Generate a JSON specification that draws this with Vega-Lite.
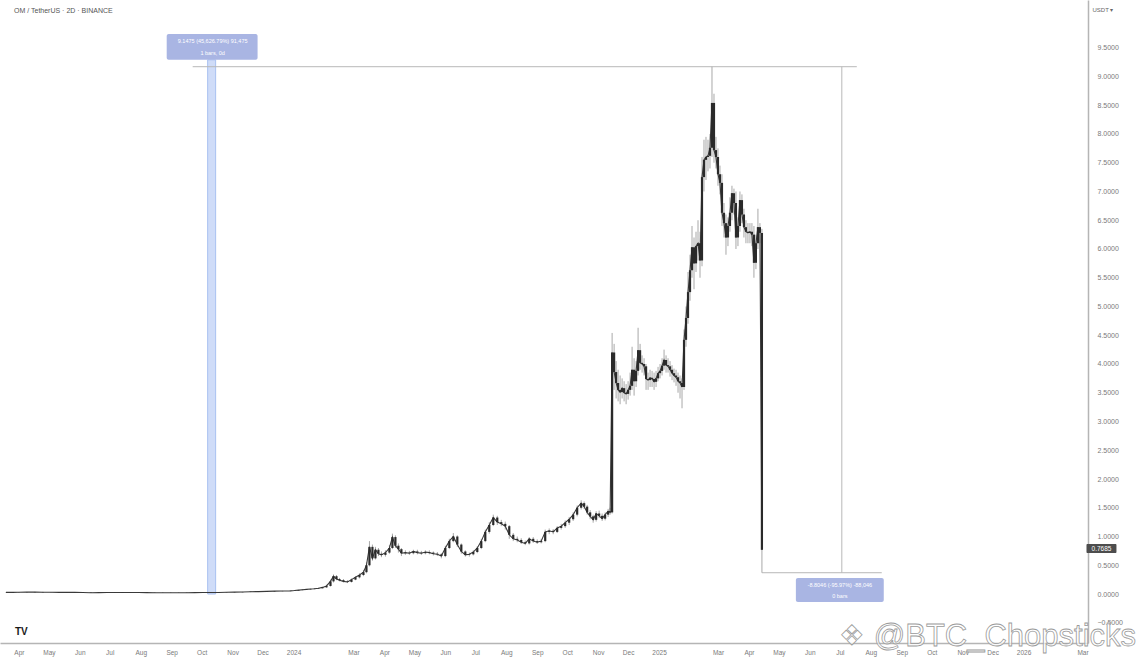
{
  "$schema": "https://vega.github.io/schema/vega-lite/v6.json",
  "width": 1088,
  "height": 643,
  "autosize": {"type": "none"},
  "padding": {"left": 0, "top": 0, "right": 58, "bottom": 19},
  "background": "white",
  "config": {
    "view": {"stroke": null},
    "font": "Liberation Sans",
    "axis": {"grid": false, "ticks": false, "domainColor": "#b5b5b5", "domainWidth": 1.5, "labelColor": "#7a7a7a", "labelOverlap": false, "labelFlush": false},
    "axisX": {"labelFontSize": 6.5, "labelPadding": 6},
    "axisY": {"labelFontSize": 7, "labelPadding": 9}
  },
  "title": {"text": "OM / TetherUS · 2D · BINANCE", "anchor": "start", "frame": "group", "orient": "top", "offset": -14, "dx": 14, "fontSize": 7, "fontWeight": "normal", "color": "#555555"},
  "datasets": {
    "candles": [
      {"d":"2023-03-19","o":0.029,"h":0.033,"l":0.026,"c":0.029},
      {"d":"2023-03-26","o":0.029,"h":0.032,"l":0.025,"c":0.028},
      {"d":"2023-04-01","o":0.028,"h":0.033,"l":0.025,"c":0.030},
      {"d":"2023-04-09","o":0.030,"h":0.035,"l":0.027,"c":0.032},
      {"d":"2023-04-17","o":0.032,"h":0.038,"l":0.029,"c":0.035},
      {"d":"2023-04-25","o":0.035,"h":0.038,"l":0.028,"c":0.031},
      {"d":"2023-05-03","o":0.031,"h":0.034,"l":0.027,"c":0.030},
      {"d":"2023-05-11","o":0.030,"h":0.033,"l":0.025,"c":0.028},
      {"d":"2023-05-19","o":0.028,"h":0.032,"l":0.025,"c":0.029},
      {"d":"2023-05-27","o":0.029,"h":0.033,"l":0.026,"c":0.030},
      {"d":"2023-06-04","o":0.030,"h":0.033,"l":0.024,"c":0.027},
      {"d":"2023-06-12","o":0.027,"h":0.030,"l":0.019,"c":0.022},
      {"d":"2023-06-20","o":0.022,"h":0.027,"l":0.019,"c":0.024},
      {"d":"2023-06-28","o":0.024,"h":0.029,"l":0.021,"c":0.026},
      {"d":"2023-07-06","o":0.026,"h":0.029,"l":0.022,"c":0.025},
      {"d":"2023-07-14","o":0.025,"h":0.030,"l":0.022,"c":0.027},
      {"d":"2023-07-22","o":0.027,"h":0.030,"l":0.023,"c":0.026},
      {"d":"2023-07-30","o":0.026,"h":0.029,"l":0.022,"c":0.025},
      {"d":"2023-08-07","o":0.025,"h":0.028,"l":0.021,"c":0.024},
      {"d":"2023-08-15","o":0.024,"h":0.027,"l":0.019,"c":0.022},
      {"d":"2023-08-23","o":0.022,"h":0.025,"l":0.018,"c":0.021},
      {"d":"2023-08-31","o":0.021,"h":0.025,"l":0.018,"c":0.022},
      {"d":"2023-09-08","o":0.022,"h":0.025,"l":0.018,"c":0.021},
      {"d":"2023-09-16","o":0.021,"h":0.026,"l":0.018,"c":0.023},
      {"d":"2023-09-24","o":0.023,"h":0.027,"l":0.020,"c":0.024},
      {"d":"2023-10-02","o":0.024,"h":0.029,"l":0.021,"c":0.026},
      {"d":"2023-10-10","o":0.026,"h":0.029,"l":0.022,"c":0.025},
      {"d":"2023-10-18","o":0.025,"h":0.030,"l":0.022,"c":0.027},
      {"d":"2023-10-26","o":0.027,"h":0.033,"l":0.024,"c":0.030},
      {"d":"2023-11-03","o":0.030,"h":0.035,"l":0.027,"c":0.032},
      {"d":"2023-11-11","o":0.032,"h":0.038,"l":0.029,"c":0.035},
      {"d":"2023-11-19","o":0.035,"h":0.043,"l":0.032,"c":0.040},
      {"d":"2023-11-27","o":0.040,"h":0.045,"l":0.037,"c":0.042},
      {"d":"2023-12-05","o":0.042,"h":0.048,"l":0.039,"c":0.045},
      {"d":"2023-12-13","o":0.045,"h":0.053,"l":0.042,"c":0.050},
      {"d":"2023-12-21","o":0.050,"h":0.055,"l":0.047,"c":0.052},
      {"d":"2023-12-29","o":0.052,"h":0.058,"l":0.049,"c":0.055},
      {"d":"2024-01-02","o":0.055,"h":0.064,"l":0.052,"c":0.060},
      {"d":"2024-01-06","o":0.060,"h":0.072,"l":0.058,"c":0.068},
      {"d":"2024-01-10","o":0.068,"h":0.078,"l":0.065,"c":0.074},
      {"d":"2024-01-14","o":0.074,"h":0.085,"l":0.071,"c":0.080},
      {"d":"2024-01-18","o":0.080,"h":0.092,"l":0.077,"c":0.086},
      {"d":"2024-01-22","o":0.086,"h":0.10,"l":0.083,"c":0.092},
      {"d":"2024-01-26","o":0.092,"h":0.11,"l":0.088,"c":0.10},
      {"d":"2024-01-30","o":0.10,"h":0.125,"l":0.095,"c":0.115},
      {"d":"2024-02-03","o":0.115,"h":0.16,"l":0.11,"c":0.14},
      {"d":"2024-02-07","o":0.14,"h":0.25,"l":0.13,"c":0.22},
      {"d":"2024-02-10","o":0.22,"h":0.34,"l":0.20,"c":0.31},
      {"d":"2024-02-13","o":0.31,"h":0.33,"l":0.24,"c":0.26},
      {"d":"2024-02-16","o":0.26,"h":0.28,"l":0.22,"c":0.24},
      {"d":"2024-02-20","o":0.24,"h":0.26,"l":0.20,"c":0.22},
      {"d":"2024-02-24","o":0.22,"h":0.24,"l":0.19,"c":0.21},
      {"d":"2024-02-28","o":0.21,"h":0.27,"l":0.20,"c":0.25},
      {"d":"2024-03-03","o":0.25,"h":0.31,"l":0.24,"c":0.29},
      {"d":"2024-03-07","o":0.29,"h":0.36,"l":0.27,"c":0.33},
      {"d":"2024-03-11","o":0.33,"h":0.42,"l":0.31,"c":0.38},
      {"d":"2024-03-14","o":0.38,"h":0.55,"l":0.36,"c":0.50},
      {"d":"2024-03-17","o":0.50,"h":0.92,"l":0.48,"c":0.82},
      {"d":"2024-03-20","o":0.82,"h":0.86,"l":0.58,"c":0.62},
      {"d":"2024-03-23","o":0.62,"h":0.82,"l":0.60,"c":0.77},
      {"d":"2024-03-26","o":0.77,"h":0.80,"l":0.66,"c":0.70},
      {"d":"2024-03-29","o":0.70,"h":0.74,"l":0.64,"c":0.68},
      {"d":"2024-04-02","o":0.68,"h":0.76,"l":0.65,"c":0.72},
      {"d":"2024-04-06","o":0.72,"h":0.85,"l":0.70,"c":0.80},
      {"d":"2024-04-09","o":0.80,"h":1.05,"l":0.78,"c":0.99},
      {"d":"2024-04-12","o":0.99,"h":1.02,"l":0.80,"c":0.84},
      {"d":"2024-04-15","o":0.84,"h":0.88,"l":0.72,"c":0.78},
      {"d":"2024-04-18","o":0.78,"h":0.80,"l":0.66,"c":0.71},
      {"d":"2024-04-22","o":0.71,"h":0.76,"l":0.68,"c":0.72},
      {"d":"2024-04-26","o":0.72,"h":0.75,"l":0.68,"c":0.71},
      {"d":"2024-04-30","o":0.71,"h":0.77,"l":0.69,"c":0.74},
      {"d":"2024-05-04","o":0.74,"h":0.77,"l":0.69,"c":0.72},
      {"d":"2024-05-08","o":0.72,"h":0.75,"l":0.68,"c":0.71},
      {"d":"2024-05-12","o":0.71,"h":0.76,"l":0.69,"c":0.73},
      {"d":"2024-05-16","o":0.73,"h":0.76,"l":0.69,"c":0.72},
      {"d":"2024-05-20","o":0.72,"h":0.74,"l":0.67,"c":0.70},
      {"d":"2024-05-24","o":0.70,"h":0.73,"l":0.66,"c":0.69},
      {"d":"2024-05-28","o":0.69,"h":0.71,"l":0.62,"c":0.66},
      {"d":"2024-06-01","o":0.66,"h":0.84,"l":0.64,"c":0.80},
      {"d":"2024-06-05","o":0.80,"h":0.96,"l":0.78,"c":0.92},
      {"d":"2024-06-09","o":0.92,"h":1.06,"l":0.90,"c":1.00},
      {"d":"2024-06-13","o":1.00,"h":1.02,"l":0.82,"c":0.86},
      {"d":"2024-06-17","o":0.86,"h":0.88,"l":0.70,"c":0.74},
      {"d":"2024-06-21","o":0.74,"h":0.76,"l":0.65,"c":0.68},
      {"d":"2024-06-25","o":0.68,"h":0.72,"l":0.65,"c":0.69},
      {"d":"2024-06-29","o":0.69,"h":0.76,"l":0.67,"c":0.73},
      {"d":"2024-07-03","o":0.73,"h":0.83,"l":0.71,"c":0.80},
      {"d":"2024-07-07","o":0.80,"h":0.96,"l":0.78,"c":0.92},
      {"d":"2024-07-11","o":0.92,"h":1.12,"l":0.90,"c":1.08},
      {"d":"2024-07-15","o":1.08,"h":1.25,"l":1.05,"c":1.20},
      {"d":"2024-07-19","o":1.20,"h":1.38,"l":1.18,"c":1.33},
      {"d":"2024-07-23","o":1.33,"h":1.36,"l":1.20,"c":1.25},
      {"d":"2024-07-27","o":1.25,"h":1.29,"l":1.18,"c":1.22},
      {"d":"2024-07-31","o":1.22,"h":1.26,"l":1.12,"c":1.18},
      {"d":"2024-08-04","o":1.18,"h":1.20,"l":0.96,"c":1.03},
      {"d":"2024-08-08","o":1.03,"h":1.06,"l":0.92,"c":0.96},
      {"d":"2024-08-12","o":0.96,"h":1.00,"l":0.90,"c":0.94},
      {"d":"2024-08-16","o":0.94,"h":0.97,"l":0.87,"c":0.90},
      {"d":"2024-08-20","o":0.90,"h":0.93,"l":0.85,"c":0.88},
      {"d":"2024-08-24","o":0.88,"h":0.99,"l":0.86,"c":0.96},
      {"d":"2024-08-28","o":0.96,"h":0.99,"l":0.89,"c":0.92},
      {"d":"2024-09-01","o":0.92,"h":0.95,"l":0.87,"c":0.90},
      {"d":"2024-09-05","o":0.90,"h":0.96,"l":0.88,"c":0.92},
      {"d":"2024-09-09","o":0.92,"h":1.12,"l":0.90,"c":1.08},
      {"d":"2024-09-13","o":1.08,"h":1.14,"l":1.04,"c":1.10},
      {"d":"2024-09-17","o":1.10,"h":1.13,"l":1.04,"c":1.08},
      {"d":"2024-09-21","o":1.08,"h":1.18,"l":1.06,"c":1.15},
      {"d":"2024-09-25","o":1.15,"h":1.22,"l":1.12,"c":1.18},
      {"d":"2024-09-29","o":1.18,"h":1.28,"l":1.15,"c":1.24},
      {"d":"2024-10-03","o":1.24,"h":1.34,"l":1.20,"c":1.30},
      {"d":"2024-10-07","o":1.30,"h":1.42,"l":1.27,"c":1.38},
      {"d":"2024-10-11","o":1.38,"h":1.54,"l":1.35,"c":1.50},
      {"d":"2024-10-15","o":1.50,"h":1.63,"l":1.47,"c":1.58},
      {"d":"2024-10-18","o":1.58,"h":1.61,"l":1.48,"c":1.52},
      {"d":"2024-10-21","o":1.52,"h":1.55,"l":1.38,"c":1.42},
      {"d":"2024-10-24","o":1.42,"h":1.46,"l":1.30,"c":1.35},
      {"d":"2024-10-27","o":1.35,"h":1.38,"l":1.24,"c":1.29},
      {"d":"2024-10-30","o":1.29,"h":1.44,"l":1.26,"c":1.40},
      {"d":"2024-11-02","o":1.40,"h":1.45,"l":1.32,"c":1.36},
      {"d":"2024-11-05","o":1.36,"h":1.40,"l":1.27,"c":1.31},
      {"d":"2024-11-08","o":1.31,"h":1.42,"l":1.28,"c":1.38},
      {"d":"2024-11-11","o":1.38,"h":1.48,"l":1.34,"c":1.44},
      {"d":"2024-11-13","o":1.44,"h":1.50,"l":1.38,"c":1.42},
      {"d":"2024-11-15","o":1.42,"h":4.54,"l":1.40,"c":4.20},
      {"d":"2024-11-17","o":4.20,"h":4.35,"l":3.55,"c":3.86},
      {"d":"2024-11-19","o":3.86,"h":4.05,"l":3.40,"c":3.67},
      {"d":"2024-11-21","o":3.67,"h":3.90,"l":3.35,"c":3.55},
      {"d":"2024-11-23","o":3.55,"h":3.80,"l":3.30,"c":3.51},
      {"d":"2024-11-25","o":3.51,"h":3.75,"l":3.40,"c":3.58},
      {"d":"2024-11-27","o":3.58,"h":3.70,"l":3.35,"c":3.50},
      {"d":"2024-11-29","o":3.50,"h":3.65,"l":3.30,"c":3.48},
      {"d":"2024-12-01","o":3.48,"h":3.70,"l":3.38,"c":3.55},
      {"d":"2024-12-03","o":3.55,"h":3.85,"l":3.45,"c":3.62},
      {"d":"2024-12-05","o":3.62,"h":4.30,"l":3.55,"c":3.90},
      {"d":"2024-12-07","o":3.90,"h":4.10,"l":3.45,"c":3.70},
      {"d":"2024-12-09","o":3.70,"h":4.05,"l":3.60,"c":3.88},
      {"d":"2024-12-11","o":3.88,"h":4.63,"l":3.80,"c":4.24},
      {"d":"2024-12-13","o":4.24,"h":4.35,"l":3.90,"c":4.02},
      {"d":"2024-12-15","o":4.02,"h":4.15,"l":3.85,"c":4.00},
      {"d":"2024-12-17","o":4.00,"h":4.10,"l":3.80,"c":3.96},
      {"d":"2024-12-19","o":3.96,"h":4.00,"l":3.55,"c":3.74},
      {"d":"2024-12-21","o":3.74,"h":3.85,"l":3.55,"c":3.72},
      {"d":"2024-12-23","o":3.72,"h":3.90,"l":3.60,"c":3.76},
      {"d":"2024-12-25","o":3.76,"h":3.88,"l":3.60,"c":3.74},
      {"d":"2024-12-27","o":3.74,"h":3.85,"l":3.55,"c":3.69},
      {"d":"2024-12-29","o":3.69,"h":3.88,"l":3.60,"c":3.75},
      {"d":"2024-12-31","o":3.75,"h":3.95,"l":3.70,"c":3.84},
      {"d":"2025-01-02","o":3.84,"h":4.00,"l":3.75,"c":3.88},
      {"d":"2025-01-04","o":3.88,"h":4.10,"l":3.80,"c":3.97},
      {"d":"2025-01-06","o":3.97,"h":4.25,"l":3.90,"c":4.07},
      {"d":"2025-01-08","o":4.07,"h":4.15,"l":3.85,"c":3.98},
      {"d":"2025-01-10","o":3.98,"h":4.10,"l":3.85,"c":3.96},
      {"d":"2025-01-12","o":3.96,"h":4.05,"l":3.78,"c":3.90},
      {"d":"2025-01-14","o":3.90,"h":3.98,"l":3.72,"c":3.84},
      {"d":"2025-01-16","o":3.84,"h":3.92,"l":3.68,"c":3.80},
      {"d":"2025-01-18","o":3.80,"h":3.90,"l":3.62,"c":3.77},
      {"d":"2025-01-20","o":3.77,"h":3.85,"l":3.50,"c":3.70},
      {"d":"2025-01-22","o":3.70,"h":3.80,"l":3.40,"c":3.67},
      {"d":"2025-01-24","o":3.67,"h":3.75,"l":3.23,"c":3.60},
      {"d":"2025-01-26","o":3.60,"h":4.60,"l":3.55,"c":4.42},
      {"d":"2025-01-28","o":4.42,"h":5.00,"l":4.30,"c":4.80},
      {"d":"2025-01-30","o":4.80,"h":5.60,"l":4.70,"c":5.25},
      {"d":"2025-02-01","o":5.25,"h":5.90,"l":5.10,"c":5.63},
      {"d":"2025-02-03","o":5.63,"h":6.40,"l":5.50,"c":6.03},
      {"d":"2025-02-05","o":6.03,"h":6.20,"l":5.30,"c":5.75},
      {"d":"2025-02-07","o":5.75,"h":6.30,"l":5.60,"c":6.05},
      {"d":"2025-02-09","o":6.05,"h":6.50,"l":5.80,"c":6.10},
      {"d":"2025-02-11","o":6.10,"h":6.30,"l":5.50,"c":5.80},
      {"d":"2025-02-13","o":5.80,"h":7.60,"l":5.70,"c":7.25},
      {"d":"2025-02-15","o":7.25,"h":7.90,"l":7.00,"c":7.55},
      {"d":"2025-02-17","o":7.55,"h":7.95,"l":7.20,"c":7.60},
      {"d":"2025-02-19","o":7.60,"h":7.90,"l":7.35,"c":7.62},
      {"d":"2025-02-21","o":7.62,"h":8.00,"l":7.40,"c":7.76},
      {"d":"2025-02-23","o":7.76,"h":9.17,"l":7.60,"c":8.54},
      {"d":"2025-02-25","o":8.54,"h":8.70,"l":7.50,"c":7.72},
      {"d":"2025-02-27","o":7.72,"h":7.95,"l":7.40,"c":7.60},
      {"d":"2025-03-01","o":7.60,"h":7.75,"l":7.10,"c":7.30},
      {"d":"2025-03-03","o":7.30,"h":7.45,"l":6.95,"c":7.15},
      {"d":"2025-03-05","o":7.15,"h":7.30,"l":6.40,"c":6.63},
      {"d":"2025-03-07","o":6.63,"h":6.80,"l":6.20,"c":6.45},
      {"d":"2025-03-09","o":6.45,"h":6.60,"l":5.90,"c":6.20},
      {"d":"2025-03-11","o":6.20,"h":6.55,"l":6.05,"c":6.40},
      {"d":"2025-03-13","o":6.40,"h":6.90,"l":6.30,"c":6.63},
      {"d":"2025-03-15","o":6.63,"h":7.10,"l":6.50,"c":6.97},
      {"d":"2025-03-17","o":6.97,"h":7.05,"l":6.60,"c":6.80},
      {"d":"2025-03-19","o":6.80,"h":7.00,"l":6.00,"c":6.20},
      {"d":"2025-03-21","o":6.20,"h":6.55,"l":6.05,"c":6.40},
      {"d":"2025-03-23","o":6.40,"h":7.00,"l":6.30,"c":6.85},
      {"d":"2025-03-25","o":6.85,"h":6.95,"l":6.45,"c":6.60},
      {"d":"2025-03-27","o":6.60,"h":6.70,"l":6.20,"c":6.38},
      {"d":"2025-03-29","o":6.38,"h":6.50,"l":6.10,"c":6.30},
      {"d":"2025-03-31","o":6.30,"h":6.45,"l":6.10,"c":6.28},
      {"d":"2025-04-02","o":6.28,"h":6.45,"l":6.10,"c":6.30},
      {"d":"2025-04-04","o":6.30,"h":6.45,"l":6.05,"c":6.25},
      {"d":"2025-04-06","o":6.25,"h":6.40,"l":5.50,"c":5.76},
      {"d":"2025-04-08","o":5.76,"h":6.25,"l":5.65,"c":6.10},
      {"d":"2025-04-10","o":6.10,"h":6.70,"l":6.00,"c":6.38},
      {"d":"2025-04-12","o":6.38,"h":6.45,"l":6.10,"c":6.28},
      {"d":"2025-04-14","o":6.28,"h":6.35,"l":0.37,"c":0.7685}
    ],
    "band": [{"x0":"2023-10-07","x1":"2023-10-15","y0":0.0,"y1":9.29}],
    "guides": [
      {"x0":"2023-09-22","x1":"2025-07-18","y0":9.17,"y1":9.17},
      {"x0":"2025-07-03","x1":"2025-07-03","y0":0.37,"y1":9.17},
      {"x0":"2025-04-14","x1":"2025-08-12","y0":0.37,"y1":0.37}
    ],
    "boxes": [
      {"x0":"2023-08-27","x1":"2023-11-26","y0":9.29,"y1":9.74},
      {"x0":"2025-05-18","x1":"2025-08-14","y0":-0.139,"y1":0.278}
    ],
    "boxtext": [
      {"x":"2023-10-12","y":9.62,"t":"9.1475 (45,626.79%) 91,475"},
      {"x":"2023-10-12","y":9.41,"t":"1 bars, 0d"},
      {"x":"2025-07-01","y":0.157,"t":"-8.8046 (-95.97%) -88,046"},
      {"x":"2025-07-01","y":-0.035,"t":"0 bars"}
    ],
    "tag": [{"x0":"2026-03-05","x1":"2026-04-04","y0":0.713,"y1":0.87,"x":"2026-03-20","y":0.79,"t":"0.7685"}],
    "unit": [{"x":"2026-03-11","y":10.157,"t":"USDT ▾"}],
    "logo": [{"x":"2023-03-28","y":-0.66,"t":"TV"}],
    "mark": [{"x":"2025-08-04","y":-0.75,"t":"@BTC_Chopsticks","gx":"2025-07-13","g":"❖"}]
  },
  "layer": [
    {
      "data": {"name": "band"},
      "mark": {"type": "rect", "fill": "#cfdcf8", "stroke": "#a9c0f0", "strokeWidth": 1},
      "encoding": {
        "x": {"field": "x0", "type": "temporal", "scale": {"type": "utc", "domain": [1679104800000, 1772366400000]},
          "axis": {"orient": "bottom", "title": null, "labelExpr": "utcmonth(datum.value) == 0 ? utcFormat(datum.value, '%Y') : utcFormat(datum.value, '%b')",
            "values": [1680307200000,1682899200000,1685577600000,1688169600000,1690848000000,1693526400000,1696118400000,1698796800000,1701388800000,1704067200000,1709251200000,1711929600000,1714521600000,1717200000000,1719792000000,1722470400000,1725148800000,1727740800000,1730419200000,1733011200000,1735689600000,1740787200000,1743465600000,1746057600000,1748736000000,1751328000000,1754006400000,1756684800000,1759276800000,1761955200000,1764547200000,1767225600000,1772323200000]}},
        "x2": {"field": "x1"},
        "y": {"field": "y0", "type": "quantitative", "scale": {"domain": [-0.852, 10.33], "nice": false, "zero": false},
          "axis": {"orient": "right", "title": null, "format": ".4f", "values": [-0.5, 0, 0.5, 1, 1.5, 2, 2.5, 3, 3.5, 4, 4.5, 5, 5.5, 6, 6.5, 7, 7.5, 8, 8.5, 9, 9.5]}},
        "y2": {"field": "y1"}
      }
    },
    {
      "data": {"name": "guides"},
      "mark": {"type": "rule", "color": "#b8b8b8", "strokeWidth": 1},
      "encoding": {
        "x": {"field": "x0", "type": "temporal", "scale": {"type": "utc", "domain": [1679104800000, 1772366400000]},
          "axis": {"orient": "bottom", "title": null, "labelExpr": "utcmonth(datum.value) == 0 ? utcFormat(datum.value, '%Y') : utcFormat(datum.value, '%b')",
            "values": [1680307200000,1682899200000,1685577600000,1688169600000,1690848000000,1693526400000,1696118400000,1698796800000,1701388800000,1704067200000,1709251200000,1711929600000,1714521600000,1717200000000,1719792000000,1722470400000,1725148800000,1727740800000,1730419200000,1733011200000,1735689600000,1740787200000,1743465600000,1746057600000,1748736000000,1751328000000,1754006400000,1756684800000,1759276800000,1761955200000,1764547200000,1767225600000,1772323200000]}},
        "x2": {"field": "x1"},
        "y": {"field": "y0", "type": "quantitative", "scale": {"domain": [-0.852, 10.33], "nice": false, "zero": false},
          "axis": {"orient": "right", "title": null, "format": ".4f", "values": [-0.5, 0, 0.5, 1, 1.5, 2, 2.5, 3, 3.5, 4, 4.5, 5, 5.5, 6, 6.5, 7, 7.5, 8, 8.5, 9, 9.5]}},
        "y2": {"field": "y1"}
      }
    },
    {
      "data": {"name": "candles"},
      "mark": {"type": "rule", "color": "#a8a8a8", "strokeWidth": 1},
      "encoding": {
        "x": {"field": "d", "type": "temporal", "scale": {"type": "utc", "domain": [1679104800000, 1772366400000]},
          "axis": {"orient": "bottom", "title": null, "labelExpr": "utcmonth(datum.value) == 0 ? utcFormat(datum.value, '%Y') : utcFormat(datum.value, '%b')",
            "values": [1680307200000,1682899200000,1685577600000,1688169600000,1690848000000,1693526400000,1696118400000,1698796800000,1701388800000,1704067200000,1709251200000,1711929600000,1714521600000,1717200000000,1719792000000,1722470400000,1725148800000,1727740800000,1730419200000,1733011200000,1735689600000,1740787200000,1743465600000,1746057600000,1748736000000,1751328000000,1754006400000,1756684800000,1759276800000,1761955200000,1764547200000,1767225600000,1772323200000]}},
        "y": {"field": "l", "type": "quantitative", "scale": {"domain": [-0.852, 10.33], "nice": false, "zero": false},
          "axis": {"orient": "right", "title": null, "format": ".4f", "values": [-0.5, 0, 0.5, 1, 1.5, 2, 2.5, 3, 3.5, 4, 4.5, 5, 5.5, 6, 6.5, 7, 7.5, 8, 8.5, 9, 9.5]}},
        "y2": {"field": "h"}
      }
    },
    {
      "data": {"name": "candles"},
      "mark": {"type": "line", "color": "#3a3a3a", "strokeWidth": 1.1},
      "encoding": {
        "x": {"field": "d", "type": "temporal", "scale": {"type": "utc", "domain": [1679104800000, 1772366400000]},
          "axis": {"orient": "bottom", "title": null, "labelExpr": "utcmonth(datum.value) == 0 ? utcFormat(datum.value, '%Y') : utcFormat(datum.value, '%b')",
            "values": [1680307200000,1682899200000,1685577600000,1688169600000,1690848000000,1693526400000,1696118400000,1698796800000,1701388800000,1704067200000,1709251200000,1711929600000,1714521600000,1717200000000,1719792000000,1722470400000,1725148800000,1727740800000,1730419200000,1733011200000,1735689600000,1740787200000,1743465600000,1746057600000,1748736000000,1751328000000,1754006400000,1756684800000,1759276800000,1761955200000,1764547200000,1767225600000,1772323200000]}},
        "y": {"field": "c", "type": "quantitative", "scale": {"domain": [-0.852, 10.33], "nice": false, "zero": false},
          "axis": {"orient": "right", "title": null, "format": ".4f", "values": [-0.5, 0, 0.5, 1, 1.5, 2, 2.5, 3, 3.5, 4, 4.5, 5, 5.5, 6, 6.5, 7, 7.5, 8, 8.5, 9, 9.5]}}
      }
    },
    {
      "data": {"name": "candles"},
      "mark": {"type": "bar", "color": "#2a2a2a", "size": 2.2},
      "encoding": {
        "x": {"field": "d", "type": "temporal", "scale": {"type": "utc", "domain": [1679104800000, 1772366400000]},
          "axis": {"orient": "bottom", "title": null, "labelExpr": "utcmonth(datum.value) == 0 ? utcFormat(datum.value, '%Y') : utcFormat(datum.value, '%b')",
            "values": [1680307200000,1682899200000,1685577600000,1688169600000,1690848000000,1693526400000,1696118400000,1698796800000,1701388800000,1704067200000,1709251200000,1711929600000,1714521600000,1717200000000,1719792000000,1722470400000,1725148800000,1727740800000,1730419200000,1733011200000,1735689600000,1740787200000,1743465600000,1746057600000,1748736000000,1751328000000,1754006400000,1756684800000,1759276800000,1761955200000,1764547200000,1767225600000,1772323200000]}},
        "y": {"field": "o", "type": "quantitative", "scale": {"domain": [-0.852, 10.33], "nice": false, "zero": false},
          "axis": {"orient": "right", "title": null, "format": ".4f", "values": [-0.5, 0, 0.5, 1, 1.5, 2, 2.5, 3, 3.5, 4, 4.5, 5, 5.5, 6, 6.5, 7, 7.5, 8, 8.5, 9, 9.5]}},
        "y2": {"field": "c"}
      }
    },
    {
      "data": {"name": "boxes"},
      "mark": {"type": "rect", "fill": "#a9b5e3", "cornerRadius": 2},
      "encoding": {
        "x": {"field": "x0", "type": "temporal", "scale": {"type": "utc", "domain": [1679104800000, 1772366400000]},
          "axis": {"orient": "bottom", "title": null, "labelExpr": "utcmonth(datum.value) == 0 ? utcFormat(datum.value, '%Y') : utcFormat(datum.value, '%b')",
            "values": [1680307200000,1682899200000,1685577600000,1688169600000,1690848000000,1693526400000,1696118400000,1698796800000,1701388800000,1704067200000,1709251200000,1711929600000,1714521600000,1717200000000,1719792000000,1722470400000,1725148800000,1727740800000,1730419200000,1733011200000,1735689600000,1740787200000,1743465600000,1746057600000,1748736000000,1751328000000,1754006400000,1756684800000,1759276800000,1761955200000,1764547200000,1767225600000,1772323200000]}},
        "x2": {"field": "x1"},
        "y": {"field": "y0", "type": "quantitative", "scale": {"domain": [-0.852, 10.33], "nice": false, "zero": false},
          "axis": {"orient": "right", "title": null, "format": ".4f", "values": [-0.5, 0, 0.5, 1, 1.5, 2, 2.5, 3, 3.5, 4, 4.5, 5, 5.5, 6, 6.5, 7, 7.5, 8, 8.5, 9, 9.5]}},
        "y2": {"field": "y1"}
      }
    },
    {
      "data": {"name": "boxtext"},
      "mark": {"type": "text", "color": "white", "fontSize": 5.5, "align": "center", "baseline": "middle"},
      "encoding": {
        "x": {"field": "x", "type": "temporal", "scale": {"type": "utc", "domain": [1679104800000, 1772366400000]},
          "axis": {"orient": "bottom", "title": null, "labelExpr": "utcmonth(datum.value) == 0 ? utcFormat(datum.value, '%Y') : utcFormat(datum.value, '%b')",
            "values": [1680307200000,1682899200000,1685577600000,1688169600000,1690848000000,1693526400000,1696118400000,1698796800000,1701388800000,1704067200000,1709251200000,1711929600000,1714521600000,1717200000000,1719792000000,1722470400000,1725148800000,1727740800000,1730419200000,1733011200000,1735689600000,1740787200000,1743465600000,1746057600000,1748736000000,1751328000000,1754006400000,1756684800000,1759276800000,1761955200000,1764547200000,1767225600000,1772323200000]}},
        "y": {"field": "y", "type": "quantitative", "scale": {"domain": [-0.852, 10.33], "nice": false, "zero": false},
          "axis": {"orient": "right", "title": null, "format": ".4f", "values": [-0.5, 0, 0.5, 1, 1.5, 2, 2.5, 3, 3.5, 4, 4.5, 5, 5.5, 6, 6.5, 7, 7.5, 8, 8.5, 9, 9.5]}},
        "text": {"field": "t"}
      }
    },
    {
      "data": {"name": "tag"},
      "mark": {"type": "rect", "fill": "#4d4d4d", "cornerRadius": 1, "clip": false},
      "encoding": {
        "x": {"field": "x0", "type": "temporal", "scale": {"type": "utc", "domain": [1679104800000, 1772366400000]},
          "axis": {"orient": "bottom", "title": null, "labelExpr": "utcmonth(datum.value) == 0 ? utcFormat(datum.value, '%Y') : utcFormat(datum.value, '%b')",
            "values": [1680307200000,1682899200000,1685577600000,1688169600000,1690848000000,1693526400000,1696118400000,1698796800000,1701388800000,1704067200000,1709251200000,1711929600000,1714521600000,1717200000000,1719792000000,1722470400000,1725148800000,1727740800000,1730419200000,1733011200000,1735689600000,1740787200000,1743465600000,1746057600000,1748736000000,1751328000000,1754006400000,1756684800000,1759276800000,1761955200000,1764547200000,1767225600000,1772323200000]}},
        "x2": {"field": "x1"},
        "y": {"field": "y0", "type": "quantitative", "scale": {"domain": [-0.852, 10.33], "nice": false, "zero": false},
          "axis": {"orient": "right", "title": null, "format": ".4f", "values": [-0.5, 0, 0.5, 1, 1.5, 2, 2.5, 3, 3.5, 4, 4.5, 5, 5.5, 6, 6.5, 7, 7.5, 8, 8.5, 9, 9.5]}},
        "y2": {"field": "y1"}
      }
    },
    {
      "data": {"name": "tag"},
      "mark": {"type": "text", "color": "white", "fontSize": 6.5, "align": "center", "baseline": "middle", "clip": false},
      "encoding": {
        "x": {"field": "x", "type": "temporal", "scale": {"type": "utc", "domain": [1679104800000, 1772366400000]},
          "axis": {"orient": "bottom", "title": null, "labelExpr": "utcmonth(datum.value) == 0 ? utcFormat(datum.value, '%Y') : utcFormat(datum.value, '%b')",
            "values": [1680307200000,1682899200000,1685577600000,1688169600000,1690848000000,1693526400000,1696118400000,1698796800000,1701388800000,1704067200000,1709251200000,1711929600000,1714521600000,1717200000000,1719792000000,1722470400000,1725148800000,1727740800000,1730419200000,1733011200000,1735689600000,1740787200000,1743465600000,1746057600000,1748736000000,1751328000000,1754006400000,1756684800000,1759276800000,1761955200000,1764547200000,1767225600000,1772323200000]}},
        "y": {"field": "y", "type": "quantitative", "scale": {"domain": [-0.852, 10.33], "nice": false, "zero": false},
          "axis": {"orient": "right", "title": null, "format": ".4f", "values": [-0.5, 0, 0.5, 1, 1.5, 2, 2.5, 3, 3.5, 4, 4.5, 5, 5.5, 6, 6.5, 7, 7.5, 8, 8.5, 9, 9.5]}},
        "text": {"field": "t"}
      }
    },
    {
      "data": {"name": "unit"},
      "mark": {"type": "text", "color": "#666666", "fontSize": 6, "align": "left", "baseline": "middle", "clip": false},
      "encoding": {
        "x": {"field": "x", "type": "temporal", "scale": {"type": "utc", "domain": [1679104800000, 1772366400000]},
          "axis": {"orient": "bottom", "title": null, "labelExpr": "utcmonth(datum.value) == 0 ? utcFormat(datum.value, '%Y') : utcFormat(datum.value, '%b')",
            "values": [1680307200000,1682899200000,1685577600000,1688169600000,1690848000000,1693526400000,1696118400000,1698796800000,1701388800000,1704067200000,1709251200000,1711929600000,1714521600000,1717200000000,1719792000000,1722470400000,1725148800000,1727740800000,1730419200000,1733011200000,1735689600000,1740787200000,1743465600000,1746057600000,1748736000000,1751328000000,1754006400000,1756684800000,1759276800000,1761955200000,1764547200000,1767225600000,1772323200000]}},
        "y": {"field": "y", "type": "quantitative", "scale": {"domain": [-0.852, 10.33], "nice": false, "zero": false},
          "axis": {"orient": "right", "title": null, "format": ".4f", "values": [-0.5, 0, 0.5, 1, 1.5, 2, 2.5, 3, 3.5, 4, 4.5, 5, 5.5, 6, 6.5, 7, 7.5, 8, 8.5, 9, 9.5]}},
        "text": {"field": "t"}
      }
    },
    {
      "data": {"name": "logo"},
      "mark": {"type": "text", "color": "#1a1a1a", "fontSize": 10, "fontWeight": 900, "align": "left", "baseline": "middle"},
      "encoding": {
        "x": {"field": "x", "type": "temporal", "scale": {"type": "utc", "domain": [1679104800000, 1772366400000]},
          "axis": {"orient": "bottom", "title": null, "labelExpr": "utcmonth(datum.value) == 0 ? utcFormat(datum.value, '%Y') : utcFormat(datum.value, '%b')",
            "values": [1680307200000,1682899200000,1685577600000,1688169600000,1690848000000,1693526400000,1696118400000,1698796800000,1701388800000,1704067200000,1709251200000,1711929600000,1714521600000,1717200000000,1719792000000,1722470400000,1725148800000,1727740800000,1730419200000,1733011200000,1735689600000,1740787200000,1743465600000,1746057600000,1748736000000,1751328000000,1754006400000,1756684800000,1759276800000,1761955200000,1764547200000,1767225600000,1772323200000]}},
        "y": {"field": "y", "type": "quantitative", "scale": {"domain": [-0.852, 10.33], "nice": false, "zero": false},
          "axis": {"orient": "right", "title": null, "format": ".4f", "values": [-0.5, 0, 0.5, 1, 1.5, 2, 2.5, 3, 3.5, 4, 4.5, 5, 5.5, 6, 6.5, 7, 7.5, 8, 8.5, 9, 9.5]}},
        "text": {"field": "t"}
      }
    },
    {
      "data": {"name": "mark"},
      "mark": {"type": "text", "fill": "#ffffff", "fillOpacity": 0.7, "stroke": "#9a9a9a", "strokeWidth": 0.8, "fontSize": 31, "align": "left", "baseline": "middle", "clip": false},
      "encoding": {
        "x": {"field": "x", "type": "temporal", "scale": {"type": "utc", "domain": [1679104800000, 1772366400000]},
          "axis": {"orient": "bottom", "title": null, "labelExpr": "utcmonth(datum.value) == 0 ? utcFormat(datum.value, '%Y') : utcFormat(datum.value, '%b')",
            "values": [1680307200000,1682899200000,1685577600000,1688169600000,1690848000000,1693526400000,1696118400000,1698796800000,1701388800000,1704067200000,1709251200000,1711929600000,1714521600000,1717200000000,1719792000000,1722470400000,1725148800000,1727740800000,1730419200000,1733011200000,1735689600000,1740787200000,1743465600000,1746057600000,1748736000000,1751328000000,1754006400000,1756684800000,1759276800000,1761955200000,1764547200000,1767225600000,1772323200000]}},
        "y": {"field": "y", "type": "quantitative", "scale": {"domain": [-0.852, 10.33], "nice": false, "zero": false},
          "axis": {"orient": "right", "title": null, "format": ".4f", "values": [-0.5, 0, 0.5, 1, 1.5, 2, 2.5, 3, 3.5, 4, 4.5, 5, 5.5, 6, 6.5, 7, 7.5, 8, 8.5, 9, 9.5]}},
        "text": {"field": "t"}
      }
    },
    {
      "data": {"name": "mark"},
      "mark": {"type": "text", "font": "DejaVu Sans", "fill": "#ffffff", "fillOpacity": 0.7, "stroke": "#9a9a9a", "strokeWidth": 0.8, "fontSize": 28, "align": "center", "baseline": "middle", "clip": false},
      "encoding": {
        "x": {"field": "gx", "type": "temporal", "scale": {"type": "utc", "domain": [1679104800000, 1772366400000]},
          "axis": {"orient": "bottom", "title": null, "labelExpr": "utcmonth(datum.value) == 0 ? utcFormat(datum.value, '%Y') : utcFormat(datum.value, '%b')",
            "values": [1680307200000,1682899200000,1685577600000,1688169600000,1690848000000,1693526400000,1696118400000,1698796800000,1701388800000,1704067200000,1709251200000,1711929600000,1714521600000,1717200000000,1719792000000,1722470400000,1725148800000,1727740800000,1730419200000,1733011200000,1735689600000,1740787200000,1743465600000,1746057600000,1748736000000,1751328000000,1754006400000,1756684800000,1759276800000,1761955200000,1764547200000,1767225600000,1772323200000]}},
        "y": {"field": "y", "type": "quantitative", "scale": {"domain": [-0.852, 10.33], "nice": false, "zero": false},
          "axis": {"orient": "right", "title": null, "format": ".4f", "values": [-0.5, 0, 0.5, 1, 1.5, 2, 2.5, 3, 3.5, 4, 4.5, 5, 5.5, 6, 6.5, 7, 7.5, 8, 8.5, 9, 9.5]}},
        "text": {"field": "g"}
      }
    }
  ]
}
